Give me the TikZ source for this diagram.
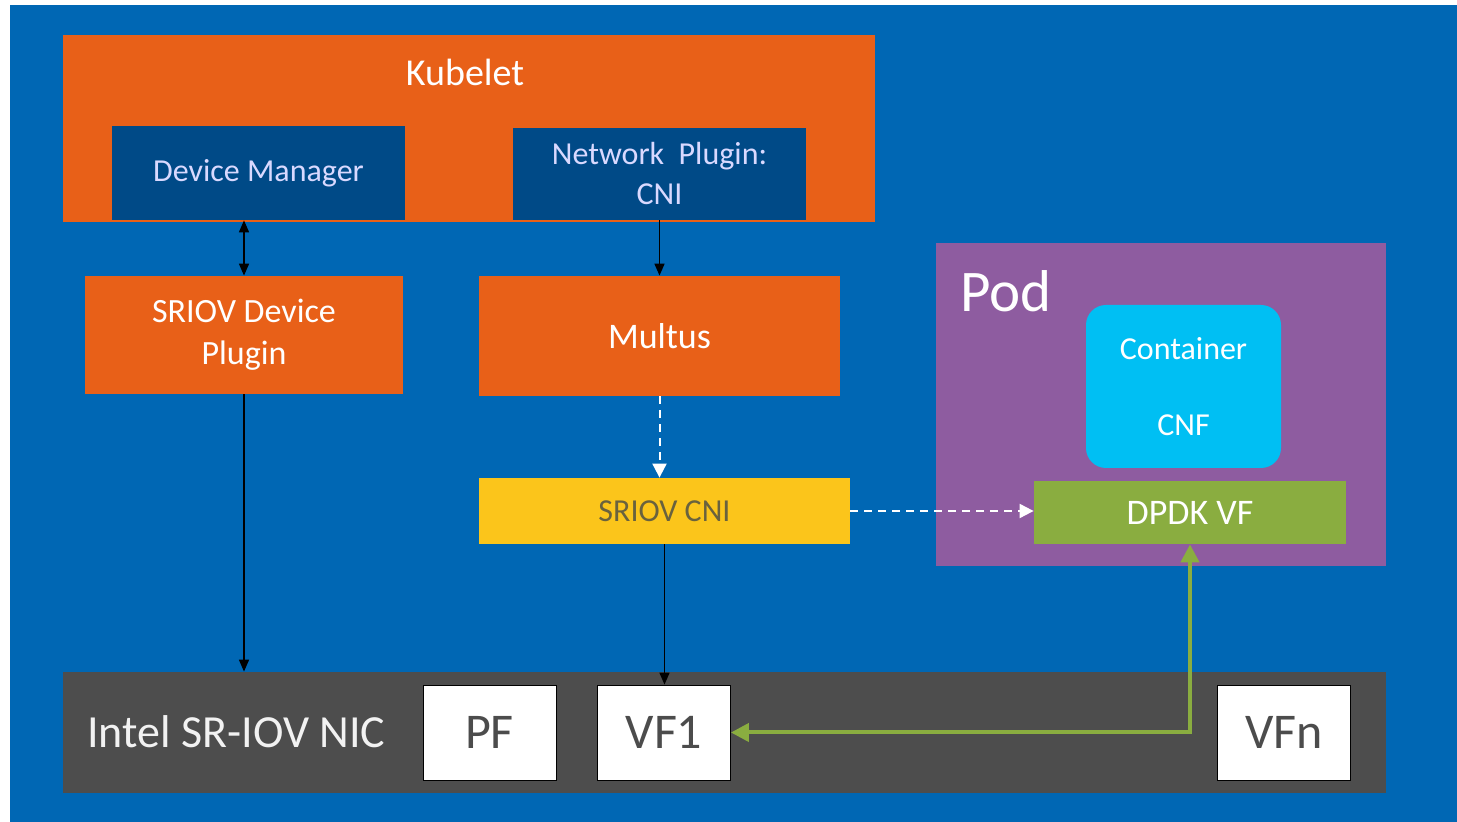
\documentclass[tikz,border=0pt]{standalone}
\usepackage{fontspec}
\setmainfont{Carlito}
\usetikzlibrary{arrows.meta}

\definecolor{bgblue}{RGB}{0,103,180}
\definecolor{kuborange}{RGB}{232,96,24}
\definecolor{darkblue}{RGB}{0,74,135}
\definecolor{podpurple}{RGB}{142,92,160}
\definecolor{cnfcyan}{RGB}{0,191,243}
\definecolor{vfgreen}{RGB}{138,173,64}
\definecolor{cniyellow}{RGB}{251,197,27}
\definecolor{nicgrey}{RGB}{77,77,77}
\definecolor{olivetext}{RGB}{105,98,62}

\begin{document}
\begin{tikzpicture}[x=0.5pt, y=-0.5pt,
    box/.style={rectangle, inner sep=0pt, draw=none, align=center},
    link/.style={-{Triangle[length=6pt, width=5pt]}, thick, black},
    dlink/.style={-{Triangle[length=7pt, width=7pt]}, line width=1pt, white, dash pattern=on 4pt off 3pt}]
        \useasboundingbox (0,0) rectangle (1457,822);
        \fill[white] (0,0) rectangle (1457,822);
        \fill[bgblue] (10,5) rectangle (1457,822);

        % Kubelet
        \node[box, fill=kuborange, minimum width=406pt, minimum height=93.5pt] (kubelet) at (469,128.5) {};
        \node[font=\fontsize{19}{22}\selectfont, text=white] (kubtitle) at (465,72) {Kubelet};
        \node[box, fill=darkblue, minimum width=146.5pt, minimum height=47pt, font=\fontsize{16}{19}\selectfont, text=white!85!blue] (devmgr) at (258.5,173) {Device Manager};
        \node[box, fill=darkblue, minimum width=146.5pt, minimum height=46pt, font=\fontsize{16}{20}\selectfont, text=white!85!blue] (netplug) at (659.5,174) {Network~ Plugin:\\CNI};

        % Plugins
        \node[box, fill=kuborange, minimum width=159pt, minimum height=59pt, font=\fontsize{17}{21}\selectfont, text=white] (sriovdp) at (244,335) {SRIOV Device\\Plugin};
        \node[box, fill=kuborange, minimum width=180.5pt, minimum height=60pt, font=\fontsize{18}{21}\selectfont, text=white] (multus) at (659.5,336) {Multus};
        \node[box, fill=cniyellow, minimum width=185.5pt, minimum height=33pt, font=\fontsize{16}{19}\selectfont, text=olivetext] (sriovcni) at (664.5,511) {SRIOV CNI};

        % Pod
        \node[box, fill=podpurple, minimum width=225pt, minimum height=161.5pt] (pod) at (1161,404.5) {};
        \node[font=\fontsize{29.5}{32}\selectfont, text=white] (podtitle) at (1006,291) {Pod};
        \node[box, fill=cnfcyan, rounded corners=10pt, minimum width=97.5pt, minimum height=81.5pt, font=\fontsize{16}{19}\selectfont, text=white] (cnf) at (1183.5,386.5) {Container\\[19pt]CNF};
        \node[box, fill=vfgreen, minimum width=156pt, minimum height=31.5pt, font=\fontsize{18}{21}\selectfont, text=white] (dpdk) at (1190,512.5) {DPDK VF};

        % NIC
        \node[box, fill=nicgrey, minimum width=661.5pt, minimum height=60.5pt] (nic) at (724.5,732.5) {};
        \node[anchor=west, inner sep=0pt, font=\fontsize{23}{26}\selectfont, text=white!90!gray] (nictitle) at (87,732) {Intel SR-IOV NIC};
        \foreach \name/\x/\txt in {pf/489.5/PF, vf1/664/VF1, vfn/1284/VFn} {
            \node[box, fill=white, draw=black, thin, minimum width=66.5pt, minimum height=47.5pt, font=\fontsize{25}{28}\selectfont, text=black!70] (\name) at (\x,732.5) {\txt};
        }

        % Connectors
        \draw[link, {Triangle[length=6pt, width=5pt]}-{Triangle[length=6pt, width=5pt]}] (sriovdp.north |- devmgr.south) -- (sriovdp.north);
        \draw[link] (netplug.south) -- (multus.north);
        \draw[link] (sriovdp.south) -- (sriovdp.south |- nic.north);
        \draw[dlink] (multus.south) -- (multus.south |- sriovcni.north);
        \draw[dlink] (sriovcni.east) -- (sriovcni.east -| dpdk.west);
        \draw[link] (sriovcni.south) -- (sriovcni.south |- vf1.north);
        \draw[vfgreen, line width=2pt, {Triangle[length=9pt, width=9pt]}-{Triangle[length=9pt, width=9pt]}] (vf1.east) -- (vf1.east -| dpdk.south) -- (dpdk.south);
    \end{tikzpicture}
\end{document}
